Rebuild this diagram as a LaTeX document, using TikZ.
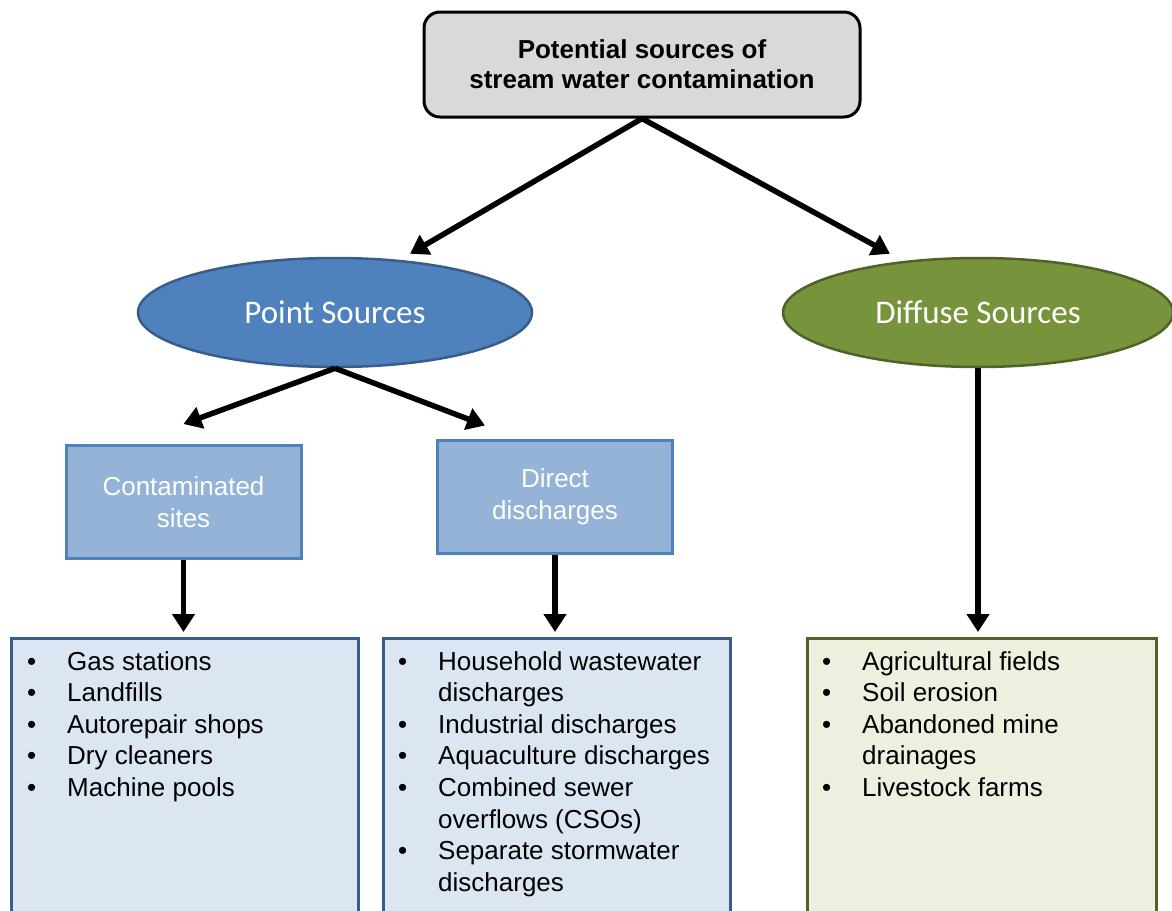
\documentclass[tikz,border=0pt]{standalone}
\usepackage{fontspec}
\setmainfont{Liberation Sans}
\newfontfamily\calibri{Carlito}
\usetikzlibrary{shapes.geometric,arrows.meta,positioning}

\definecolor{titlegray}{HTML}{D9D9D9}
\definecolor{pointblue}{HTML}{4F81BD}
\definecolor{pointedge}{HTML}{385D8A}
\definecolor{diffgreen}{HTML}{77933C}
\definecolor{diffedge}{HTML}{4F6228}
\definecolor{subblue}{HTML}{95B3D7}
\definecolor{listblue}{HTML}{DCE6F2}
\definecolor{listgreen}{HTML}{EBF1DE}

\newcommand{\blt}{\makebox[40pt][l]{\textbullet}}
\newcommand{\listgap}{\hspace*{40pt}}

\tikzset{
	titlebox/.style={draw=black, fill=titlegray, line width=3pt, rounded corners=16pt,
		minimum width=436pt, minimum height=105pt, align=center,
		font=\bfseries\fontsize{26}{30}\selectfont},
	srcellipse/.style={ellipse, line width=2.5pt, inner sep=0pt, text=white,
		minimum height=109pt, font=\calibri\fontsize{33}{36}\selectfont},
	subbox/.style={draw=pointblue, fill=subblue, line width=3pt, text=white, align=center,
		minimum width=235pt, minimum height=113pt, font=\fontsize{26}{32}\selectfont},
	listbox/.style={line width=3pt, anchor=north west, minimum width=347pt, minimum height=320pt},
	listtext/.style={anchor=base west, inner sep=0pt, font=\fontsize{26}{31.6}\selectfont},
	conn/.style={line width=5.5pt, -{Triangle[length=18pt,width=22pt]}}
}

\begin{document}
\begin{tikzpicture}[x=1pt, y=-1pt]
	\useasboundingbox (0,0) rectangle (1172,910);
	\fill[white] (0,0) rectangle (1172,910);
	\clip (0,0) rectangle (1172,910);

	% top of the tree
	\node[titlebox] (top) at (642,64.5) {Potential sources of\\stream water contamination};
	\node[srcellipse, fill=pointblue, draw=pointedge, minimum width=394pt] (point) at (335,312.5) {Point Sources};
	\node[srcellipse, fill=diffgreen, draw=diffedge, minimum width=390pt] (diffuse) at (978,312.5) {Diffuse Sources};

	% point sources split
	\node[subbox] (contam) at (183.5,502) {Contaminated\\sites};
	\node[subbox] (direct) at (555,496.5) {Direct\\discharges};

	% lists
	\node[listbox, fill=listblue, draw=pointedge] (pointlist) at (10,637) {};
	\node[listbox, fill=listblue, draw=pointedge] (directlist) at (382,637) {};
	\node[listbox, fill=listgreen, draw=diffedge, minimum width=349pt] (difflist) at (806,637) {};

	\node[listtext] (contamitems) at (27,670) {\begin{tabular}[t]{@{}l@{}}
		\blt Gas stations\\
		\blt Landfills\\
		\blt Autorepair shops\\
		\blt Dry cleaners\\
		\blt Machine pools
	\end{tabular}};
	\node[listtext] (directitems) at (398,670) {\begin{tabular}[t]{@{}l@{}}
		\blt Household wastewater\\
		\listgap discharges\\
		\blt Industrial discharges\\
		\blt Aquaculture discharges\\
		\blt Combined sewer\\
		\listgap overflows (CSOs)\\
		\blt Separate stormwater\\
		\listgap discharges
	\end{tabular}};
	\node[listtext] (diffitems) at (822,670) {\begin{tabular}[t]{@{}l@{}}
		\blt Agricultural fields\\
		\blt Soil erosion\\
		\blt Abandoned mine\\
		\listgap drainages\\
		\blt Livestock farms
	\end{tabular}};

	% arrows
	\draw[conn] (top.south) -- ([xshift=75pt,yshift=3pt]point.north);
	\draw[conn] (top.south) -- ([xshift=-88pt,yshift=3pt]diffuse.north);
	\draw[conn] (point.south) -- ([yshift=20pt]contam.north);
	\draw[conn] (point.south) -- ([xshift=-70pt,yshift=13pt]direct.north);
	\draw[conn] (contam.south) -- ([yshift=5pt]contam.south |- pointlist.north);
	\draw[conn] (direct.south) -- ([yshift=5pt]direct.south |- directlist.north);
	\draw[conn] (diffuse.south) -- ([yshift=5pt]diffuse.south |- difflist.north);
\end{tikzpicture}
\end{document}
